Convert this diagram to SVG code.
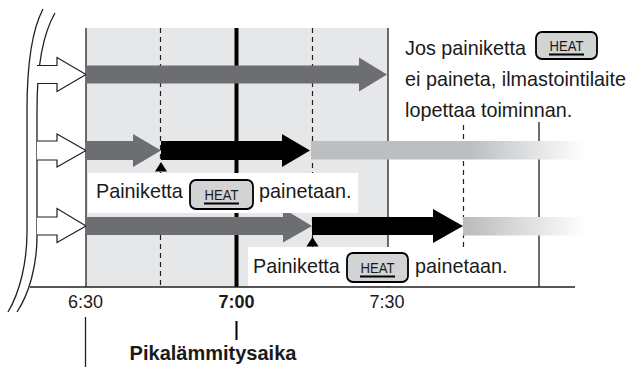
<svg xmlns="http://www.w3.org/2000/svg" width="632" height="367" viewBox="0 0 632 367">
<defs>
<linearGradient id="fade" gradientUnits="userSpaceOnUse" x1="470" y1="0" x2="585" y2="0">
<stop offset="0" stop-color="#bcbec0"/>
<stop offset="1" stop-color="#ffffff"/>
</linearGradient>
<style>
.t{font-family:"Liberation Sans",Arial,sans-serif;font-size:19.8px;fill:#1a1a1a}
.n{font-family:"Liberation Sans",Arial,sans-serif;font-size:18px;fill:#1a1a1a;text-anchor:middle}
.b{font-weight:bold}
.p{font-size:20px}
.h{font-family:"Liberation Sans",Arial,sans-serif;font-size:15px;fill:#1a1a1a;text-anchor:middle}
.btn{fill:#d1d3d4;stroke:#000000;stroke-width:1.8}
.ul{stroke:#000000;stroke-width:2.2}
.dash{stroke:#231f20;stroke-width:1.2;stroke-dasharray:5 4;fill:none}
.thin{stroke:#231f20;stroke-width:1.3;fill:none}
.open{fill:#ffffff;stroke:#231f20;stroke-width:1.2}
.dk{fill:#6d6e71}
.bk{fill:#000000}
.lt{fill:url(#fade)}
</style>
</defs>

<g id="background">
<rect x="86" y="28" width="302" height="259" fill="#e6e7e8"/>
<line class="thin" x1="86" y1="28" x2="86" y2="287"/>
<line class="thin" x1="388" y1="28" x2="388" y2="287"/>
</g>

<g id="gridlines">
<line class="dash" x1="160.5" y1="28" x2="160.5" y2="287"/>
<line class="dash" x1="312.5" y1="28" x2="312.5" y2="287"/>
<line class="dash" x1="463.5" y1="125" x2="463.5" y2="247"/>
<line class="thin" x1="539" y1="122" x2="539" y2="287"/>
<line x1="236.5" y1="28" x2="236.5" y2="287" stroke="#000" stroke-width="4"/>
</g>

<g id="brace">
<path class="thin" d="M43,9 C33,28 27,60 27,110 L27,232 C27,262 20,292 8,312"/>
<path class="thin" d="M55,13 C44,32 37,62 37,110 L37,236 C37,266 29,294 17,312"/>
</g>

<g id="connectors">
<path class="open" d="M37,65.5 H57 V57.5 L86,74.5 L57,91.5 V83.5 H37"/>
<path class="open" d="M37,141 H57 V134 L86,150.5 L57,167 V160 H37"/>
<path class="open" d="M37,217 H57 V208.5 L86,226 L57,242.5 V235 H37"/>

<path class="dk" d="M86,65.5 H359 V57.5 L387,74.5 L359,91.5 V83.5 H86 Z"/>

<path class="dk" d="M86,141 H133 V134 L161,150.5 L133,167 V160 H86 Z"/>
<path class="bk" d="M161,141 H282 V134 L310,150.5 L282,167 V160 H161 Z"/>
<rect class="lt" x="311" y="141" width="273" height="18.5"/>

<path class="dk" d="M86,217 H283 V208.5 L312,226 L283,242.5 V235 H86 Z"/>
<path class="bk" d="M312,217 H433 V209 L463,226 L433,243 V235 H312 Z"/>
<rect class="lt" x="463" y="217" width="121" height="18.5"/>

<path class="bk" d="M161,162 L167,171.5 H155 Z"/>
<path class="bk" d="M312.5,237 L318.5,246.5 H306.5 Z"/>
</g>

<g id="label-top">
<text class="t" x="405" y="55">Jos painiketta</text>
<rect class="btn" x="536" y="32" width="61" height="27" rx="6"/>
<text class="h" x="566.5" y="51" textLength="34" lengthAdjust="spacingAndGlyphs">HEAT</text>
<line class="ul" x1="549" y1="54.5" x2="584" y2="54.5"/>
<text class="t" x="405" y="86">ei paineta, ilmastointilaite</text>
<text class="t" x="405" y="117">lopettaa toiminnan.</text>
</g>

<g id="label-1">
<rect x="88" y="173" width="270" height="40" fill="#ffffff"/>
<text class="t" x="96" y="198">Painiketta</text>
<rect class="btn" x="190" y="180" width="63" height="29" rx="6"/>
<text class="h" x="221.5" y="200" textLength="34" lengthAdjust="spacingAndGlyphs">HEAT</text>
<line class="ul" x1="204" y1="203.5" x2="239" y2="203.5"/>
<text class="t" x="259" y="198">painetaan.</text>
</g>

<g id="label-2">
<rect x="248" y="247" width="264" height="39" fill="#ffffff"/>
<text class="t" x="253" y="273">Painiketta</text>
<rect class="btn" x="347" y="253" width="61" height="29" rx="6"/>
<text class="h" x="377.5" y="273" textLength="34" lengthAdjust="spacingAndGlyphs">HEAT</text>
<line class="ul" x1="360" y1="276.5" x2="395" y2="276.5"/>
<text class="t" x="415" y="273">painetaan.</text>
</g>

<g id="axis">
<line x1="30" y1="287" x2="575" y2="287" stroke="#231f20" stroke-width="1.5"/>
<text class="n" x="85.5" y="308">6:30</text>
<text class="n b" x="236.5" y="308">7:00</text>
<text class="n" x="387" y="308">7:30</text>
<line class="thin" x1="85.5" y1="317" x2="85.5" y2="367"/>
<line x1="236.5" y1="321" x2="236.5" y2="340" stroke="#000" stroke-width="2"/>
<text class="t b p" x="213" y="360" text-anchor="middle">Pikalämmitysaika</text>
</g>
</svg>
